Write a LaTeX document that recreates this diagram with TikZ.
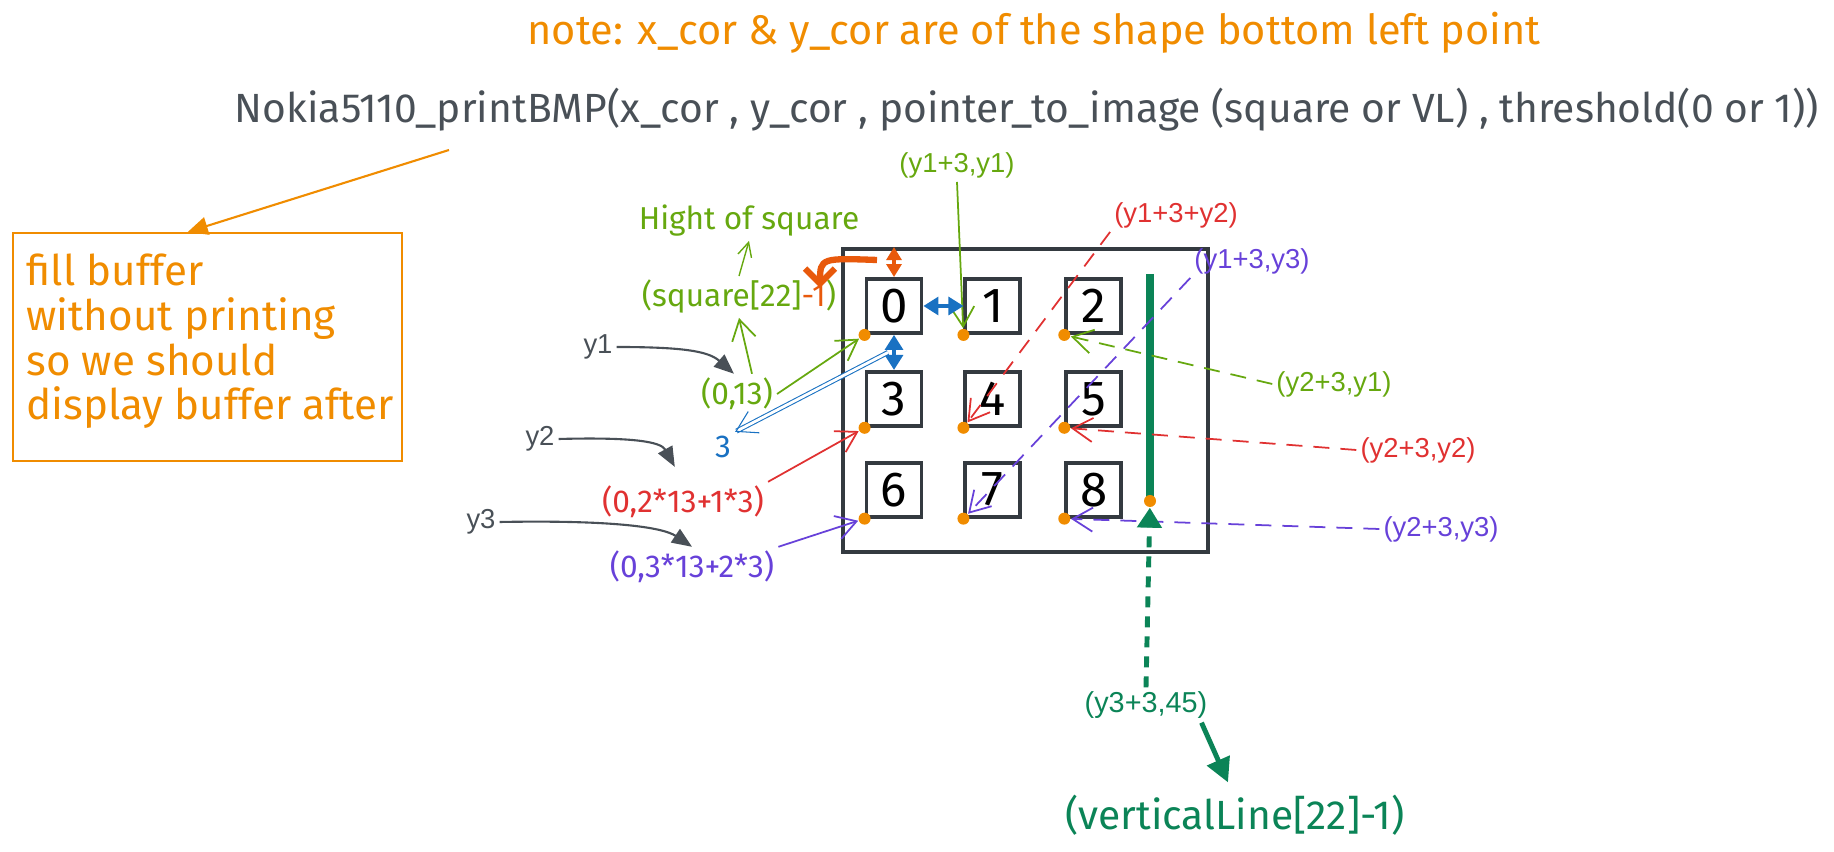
\documentclass[tikz,border=0pt]{standalone}
\usepackage{fontspec}
\usepackage{xcolor}
\usepackage{tikz}
\usetikzlibrary{positioning, arrows.meta, calc}

\setmainfont{Liberation Sans}
\newfontfamily\handfont{Fira Sans}

\definecolor{noteorange}{HTML}{F08C00}
\definecolor{fngray}{HTML}{495057}
\definecolor{edgegray}{HTML}{343A40}
\definecolor{lblgreen}{HTML}{66A80F}
\definecolor{lblred}{HTML}{E03131}
\definecolor{lblpurple}{HTML}{6741D9}
\definecolor{lblblue}{HTML}{1971C2}
\definecolor{hookred}{HTML}{E8590C}
\definecolor{vlteal}{HTML}{0B8457}

\begin{document}
\begin{tikzpicture}[
  x=0.1mm, y=-0.1mm,
  sq/.style={draw=edgegray, line width=1.1pt, minimum width=5.5mm, minimum height=5.4mm, inner sep=0pt, font=\handfont\fontsize{14}{14}\selectfont},
  dot/.style={circle, fill=noteorange, inner sep=0pt, minimum size=1.2mm},
  hand/.style={font=\handfont\fontsize{9}{10}\selectfont, inner sep=1pt},
  lbl/.style={font=\fontsize{7.8}{9}\selectfont, inner sep=1pt},
  barb/.style={-{Straight Barb[length=2mm,width=2.4mm]}, line width=0.5pt},
  dashbarb/.style={barb, dash pattern=on 1.6mm off 1.1mm},
  bendarrow/.style={draw=fngray, line width=0.6pt, -{Triangle[length=2mm,width=1.6mm]}},
  gap/.style={{Triangle[length=1.5mm,width=1.8mm]}-{Triangle[length=1.5mm,width=1.8mm]}, line width=0.9pt}
]
  \useasboundingbox (0,0) rectangle (1834,852);

  % headings
  \node[text=noteorange, font=\handfont\fontsize{11.8}{13}\selectfont] (title) at (1034,33) {note: x\_cor \& y\_cor are of the shape bottom left point};
  \node[text=fngray, font=\handfont\fontsize{11.6}{13}\selectfont] (fn) at (1027,110) {Nokia5110\_printBMP(x\_cor , y\_cor , pointer\_to\_image (square or VL) , threshold(0 or 1))};

  % note box
  \node[draw=noteorange, line width=0.7pt, minimum width=38.9mm, minimum height=22.8mm, anchor=north west] (note) at (12,232) {};
  \node[text=noteorange, font=\handfont\fontsize{12}{12.8}\selectfont, align=left, anchor=north west] (notetxt) at ([xshift=0.2mm, yshift=-0.9mm]note.north west) {fill buffer\\without printing\\so we should\\display buffer after};
  \coordinate (fnfoot) at (449,150);
  \draw[noteorange, line width=0.6pt, -{Triangle[length=2mm,width=1.8mm]}] (fnfoot) -- ([xshift=-2mm]note.north);

  % screen and squares
  \node[draw=edgegray, line width=1.1pt, minimum width=36.5mm, minimum height=30.3mm, inner sep=0pt] (lcd) at (1025.5,400.5) {};
  \node[sq] (s0) at (894,306) {0};
  \node[sq, right=4.0mm of s0] (s1) {1};
  \node[sq, right=4.2mm of s1] (s2) {2};
  \node[sq, below=3.5mm of s0] (s3) {3};
  \node[sq, right=4.0mm of s3] (s4) {4};
  \node[sq, right=4.2mm of s4] (s5) {5};
  \node[sq, below=3.3mm of s3] (s6) {6};
  \node[sq, right=4.0mm of s6] (s7) {7};
  \node[sq, right=4.2mm of s7] (s8) {8};
  \foreach \i in {0,...,8}
    \node[dot] (d\i) at (s\i.south west) {};

  % vertical line
  \coordinate (vtop) at (1150,274);
  \coordinate (vbot) at (1150,501);
  \draw[vlteal, line width=2.3pt] (vtop) -- (vbot);
  \node[dot] (dv) at (vbot) {};

  % labels right
  \node[lbl, text=lblgreen] (a1) at (957,165) {(y1+3,y1)};
  \node[lbl, text=lblred] (a2) at (1176,215) {(y1+3+y2)};
  \node[lbl, text=lblpurple] (a3) at (1252,261) {(y1+3,y3)};
  \node[lbl, text=lblgreen] (a4) at (1334,384) {(y2+3,y1)};
  \node[lbl, text=lblred] (a5) at (1418,450) {(y2+3,y2)};
  \node[lbl, text=lblpurple] (a6) at (1441,529) {(y2+3,y3)};
  \node[lbl, text=vlteal, font=\fontsize{8.2}{9}\selectfont] (a7) at (1146,705) {(y3+3,45)};
  \node[text=vlteal, font=\handfont\fontsize{11.6}{13}\selectfont] (vline) at (1235,815) {(verticalLine[22]-1)};

  \draw[barb, lblgreen] (a1.south) -- (d1);
  \draw[dashbarb, lblred] (a2.south west) -- (d4);
  \draw[dashbarb, lblpurple] (a3.south west) -- (d7);
  \draw[dashbarb, lblgreen] (a4.west) -- (d2);
  \draw[dashbarb, lblred] (a5.west) -- (d5);
  \draw[dashbarb, lblpurple] (a6.west) -- (d8);
  \draw[vlteal, line width=1.4pt, dash pattern=on 1.1mm off 0.9mm, -{Triangle[length=2mm,width=2.4mm]}] (a7.north) -- (dv);
  \draw[vlteal, line width=1.4pt, -{Triangle[length=2.4mm,width=2.4mm]}] ([xshift=-1mm]a7.south east) -- ([xshift=-0.7mm]vline.north);

  % labels left
  \node[hand, text=lblgreen] (hos) at (749,221) {Hight of square};
  \node[hand, text=lblgreen] (sqh) at (739,297) {(square[22]\textcolor{hookred}{-1})};
  \node[hand, text=lblgreen] (b1) at (737,394) {(0,13)};
  \node[hand, text=lblblue, font=\handfont\fontsize{9}{10}\selectfont] (three) at (723,447) {3};
  \node[hand, text=lblred] (b2) at (683,502) {(0,2*13+1*3)};
  \node[hand, text=lblpurple] (b3) at (692,567) {(0,3*13+2*3)};
  \node[lbl, text=fngray] (y1) at (598,347) {y1};
  \node[lbl, text=fngray] (y2) at (540,439) {y2};
  \node[lbl, text=fngray] (y3) at (481,522) {y3};

  \draw[barb, lblgreen] (b1.east) -- (d0);
  \draw[barb, lblred] (b2.north east) -- (d3);
  \draw[barb, lblpurple] (b3.north east) -- (d6);
  \draw[barb, lblgreen] ([xshift=1.5mm]b1.north) -- (sqh.south);
  \draw[lblgreen, line width=0.4pt, -{Straight Barb[length=1.4mm,width=1.4mm]}] (sqh.north) -- (hos.south);
  \draw[bendarrow] (y1.east) .. controls +(70,0) and +(-25,-22) .. ([xshift=-0.3mm]b1.north);
  \draw[bendarrow, shorten >=1.7mm] (y2.east) .. controls +(75,-2) and +(-22,-40) .. (b2.north);
  \draw[bendarrow] (y3.east) .. controls +(110,-2) and +(-30,-20) .. (b3.north);

  % gaps
  \draw[gap, lblblue] (s0.east) -- (s1.west);
  \draw[gap, lblblue] (s0.south) -- (s3.north);
  \draw[hookred, line width=0.9pt, {Triangle[length=1.3mm,width=1.5mm]}-{Triangle[length=1.3mm,width=1.5mm]}] (s0.north |- lcd.north) -- (s0.north);
  \coordinate (m03) at ($(s0.south)!0.5!(s3.north)$);
  \draw[lblblue, double, double distance=0.8pt, line width=0.3pt, -{Straight Barb[length=2mm,width=2.4mm]}] ([xshift=-0.6mm]m03) -- (three.north east);
  \coordinate (hk) at (877,260);
  \coordinate (hkend) at (820,288);
  \draw[hookred, line width=1.8pt, -{Straight Barb[length=1.5mm,width=3mm]}] (hk) .. controls +(-55,-2) and +(0,-30) .. (hkend);
\end{tikzpicture}
\end{document}
